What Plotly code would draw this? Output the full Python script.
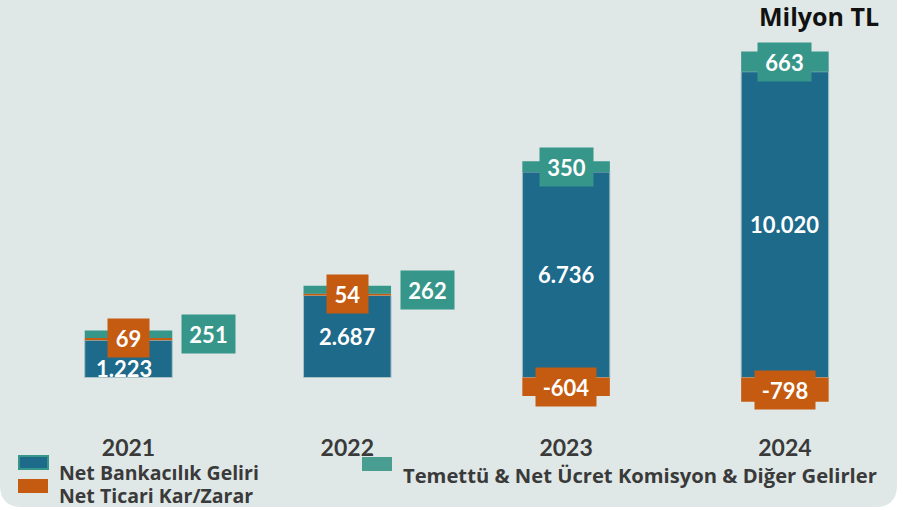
import plotly.graph_objects as go

# ---------------- data ----------------
years = ["2021", "2022", "2023", "2024"]
net_bank = [1223, 2687, 6736, 10020]        # Net Bankacılık Geliri
net_trade = [69, 54, -604, -798]            # Net Ticari Kar/Zarar
fee_other = [251, 262, 350, 663]            # Temettü & Net Ücret Komisyon & Diğer Gelirler
series_names = ["Net Bankacılık Geliri", "Net Ticari Kar/Zarar",
                "Temettü & Net Ücret Komisyon & Diğer Gelirler"]
unit_label = "Milyon TL"

# ---------------- style ----------------
W, H = 903, 510
BLUE = "#1D6A8A"
ORANGE = "#C55A11"
TEAL = "#36968A"
TEAL_LIGHT = "#4A9E91"
BG = "#DFE8E6"
DARK = "#3A3A3A"
FONT = "Lato"
FONT2 = "Open Sans"


def fmt(v):
    return f"{v:,}".replace(",", ".")


def px(x):
    return x / W


def py(y):
    return 1 - y / H


fig = go.Figure()
fig.add_bar(x=years, y=net_bank, name=series_names[0], marker_color=BLUE,
            marker_line=dict(width=1, color="#A9C3C6"), width=0.4)
fig.add_bar(x=years, y=net_trade, name=series_names[1], marker_color=ORANGE,
            marker_line=dict(width=0), width=0.4)
fig.add_bar(x=years, y=fee_other, name=series_names[2], marker_color=TEAL,
            marker_line=dict(width=0), width=0.4)

annotations = []
lab_font = dict(family=FONT, size=22, color="white", weight="bold")
for i, yr in enumerate(years):
    b, t, f = net_bank[i], net_trade[i], fee_other[i]
    # category index i is the position of year yr on the x axis
    shift_y = -10 if (t > 0 and b < 2000) else 0
    shift_x = -5 if (t > 0 and b < 2000) else 0
    annotations.append(dict(x=i, y=b / 2, text=fmt(b), showarrow=False,
                            font=lab_font, yshift=shift_y, xshift=shift_x))
    if t > 0:
        annotations.append(dict(x=i, y=b + t, text=fmt(t), showarrow=False,
                                font=lab_font, bgcolor=ORANGE, width=41, height=38,
                                borderpad=0))
        annotations.append(dict(x=i, y=b + t + f / 2, text=fmt(f), showarrow=False,
                                font=lab_font, bgcolor=TEAL, width=53, height=38,
                                borderpad=0, xshift=80))
    else:
        annotations.append(dict(x=i, y=t / 2, text=fmt(t), showarrow=False,
                                font=lab_font, bgcolor=ORANGE, width=60, height=38,
                                borderpad=0))
        annotations.append(dict(x=i, y=b + f / 2, text=fmt(f), showarrow=False,
                                font=lab_font, bgcolor=TEAL, width=53, height=38,
                                borderpad=0))

# unit label
annotations.append(dict(xref="paper", yref="paper", x=px(881), y=py(16),
                        xanchor="right", yanchor="middle", text=unit_label,
                        showarrow=False,
                        font=dict(family=FONT2, size=25, color="#111111", weight="bold")))

# legend (manual)
annotations.append(dict(xref="paper", yref="paper", x=px(57), y=py(472),
                        xanchor="left", yanchor="middle", text=series_names[0],
                        showarrow=False,
                        font=dict(family=FONT2, size=19.5, color=DARK, weight="bold")))
annotations.append(dict(xref="paper", yref="paper", x=px(57), y=py(495),
                        xanchor="left", yanchor="middle", text=series_names[1],
                        showarrow=False,
                        font=dict(family=FONT2, size=19.5, color=DARK, weight="bold")))
annotations.append(dict(xref="paper", yref="paper", x=px(401), y=py(475),
                        xanchor="left", yanchor="middle", text=series_names[2],
                        showarrow=False,
                        font=dict(family=FONT2, size=20.2, color=DARK, weight="bold")))

shapes = []
# rounded panel background
r = 22
path = (f"M {px(0)},{py(0)} L {px(897)},{py(0)} L {px(897)},{py(507 - r)} "
        f"Q {px(897)},{py(507)} {px(897 - r)},{py(507)} L {px(r)},{py(507)} "
        f"Q {px(0)},{py(507)} {px(0)},{py(507 - r)} Z")
shapes.append(dict(type="path", xref="paper", yref="paper", path=path,
                   fillcolor=BG, line=dict(width=0), layer="below"))
shapes.append(dict(type="rect", xref="paper", yref="paper",
                   x0=px(19), x1=px(48), y0=py(456), y1=py(469),
                   fillcolor=BLUE, line=dict(color=TEAL, width=2)))
shapes.append(dict(type="rect", xref="paper", yref="paper",
                   x0=px(18), x1=px(48), y0=py(479), y1=py(493),
                   fillcolor=ORANGE, line=dict(width=0)))
shapes.append(dict(type="rect", xref="paper", yref="paper",
                   x0=px(362), x1=px(392), y0=py(457), y1=py(471),
                   fillcolor=TEAL_LIGHT, line=dict(width=0)))

# axes geometry: baseline at y=377.5 px, 0.03052 px per unit
y_min, y_max = -1500, 11500
base_px, k = 377.5, 0.03052
top_px = base_px - y_max * k
bot_px = base_px - y_min * k

fig.update_layout(
    width=W, height=H,
    margin=dict(l=0, r=0, t=0, b=0),
    paper_bgcolor="white",
    plot_bgcolor="rgba(0,0,0,0)",
    barmode="relative",
    showlegend=False,
    annotations=annotations,
    shapes=shapes,
    xaxis=dict(type="category", domain=[px(19.1), px(894.3)], range=[-0.5, 3.5],
               showgrid=False, zeroline=False, showline=False, ticks="",
               tickfont=dict(family=FONT, size=23, color=DARK, weight="bold"),
               ticklabelstandoff=9, fixedrange=True),
    yaxis=dict(domain=[py(bot_px), py(top_px)], range=[y_min, y_max],
               visible=False, fixedrange=True),
)

fig.write_html("out.html", config={"displayModeBar": False},
               post_script="document.body.style.margin='0';document.body.style.overflow='hidden';")
